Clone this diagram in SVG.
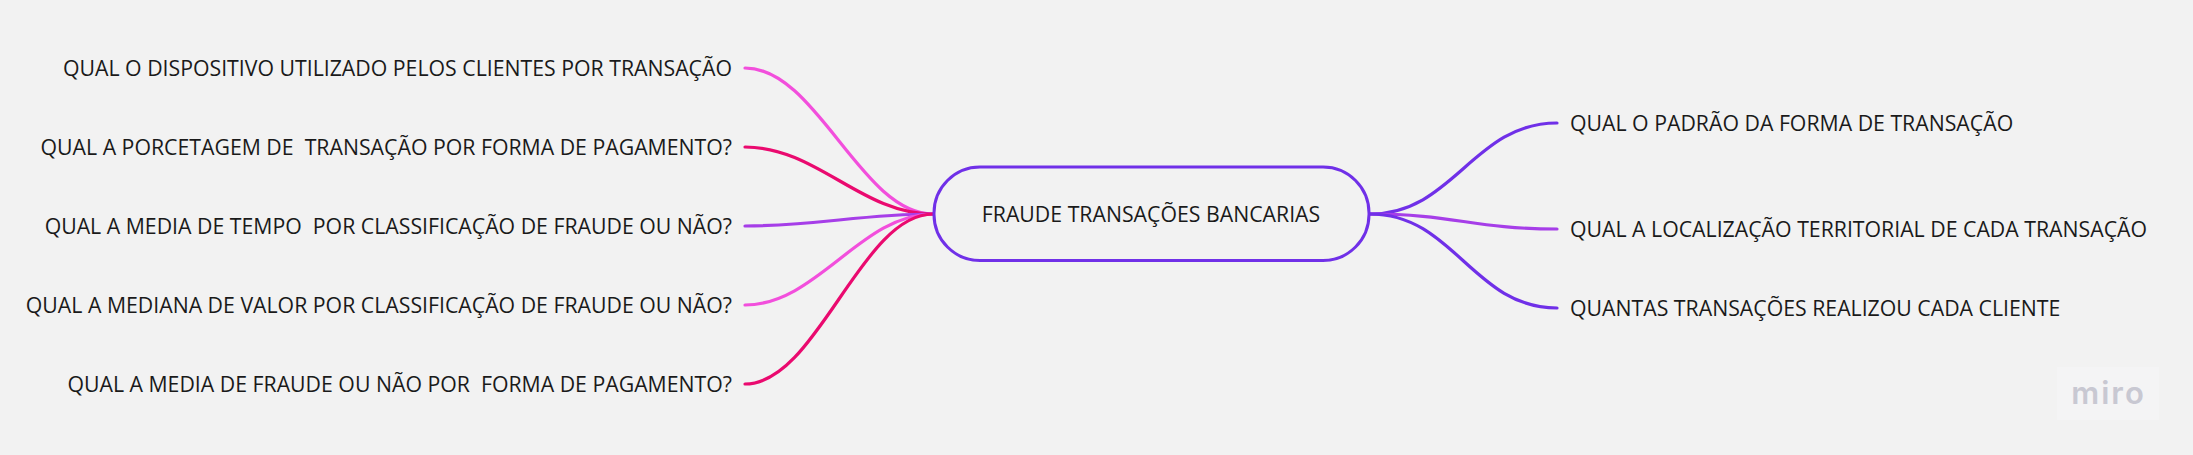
<svg xmlns="http://www.w3.org/2000/svg" width="2193" height="455" viewBox="0 0 2193 455">
<style>
text{font-family:"Open Sans","Noto Sans",sans-serif;font-size:21.27px;fill:#1a1a1a;white-space:pre;dominant-baseline:central}
.l{text-anchor:end}
.c{fill:none;stroke-width:3.2;stroke-linecap:round}
.v{stroke:#7030e8}.p{stroke:#f24fdc}.r{stroke:#ea0a6f}.m{stroke:#a63ee8}
</style>
<rect width="2193" height="455" fill="#f2f2f2"/>
<g id="connectors">
<path class="c p" d="M745 68C817 68 861 214 933 214"/>
<path class="c r" d="M745 147C817 147 861 214 933 214"/>
<path class="c m" d="M745 226C817 226 861 214 933 214"/>
<path class="c p" d="M745 305C817 305 861 214 933 214"/>
<path class="c r" d="M745 384C817 384 861 214 933 214"/>
<path class="c v" d="M1370 214C1454 214 1473 123 1557 123"/>
<path class="c m" d="M1370 214C1454 214 1473 229 1557 229"/>
<path class="c v" d="M1370 214C1454 214 1473 308 1557 308"/>
</g>
<g id="center"><rect x="934" y="167" width="435" height="93.500" rx="46" fill="#f2f2f2" stroke="#7030e8" stroke-width="3"/><text x="1151" y="213.500" text-anchor="middle">FRAUDE TRANSAÇÕES BANCARIAS</text></g>
<g id="l1"><text class="l" x="732" y="67.500">QUAL O DISPOSITIVO UTILIZADO PELOS CLIENTES POR TRANSAÇÃO</text></g>
<g id="l2"><text class="l" x="732" y="146.500">QUAL A PORCETAGEM DE  TRANSAÇÃO POR FORMA DE PAGAMENTO?</text></g>
<g id="l3"><text class="l" x="732" y="225.500">QUAL A MEDIA DE TEMPO  POR CLASSIFICAÇÃO DE FRAUDE OU NÃO?</text></g>
<g id="l4"><text class="l" x="732" y="304.500">QUAL A MEDIANA DE VALOR POR CLASSIFICAÇÃO DE FRAUDE OU NÃO?</text></g>
<g id="l5"><text class="l" x="732" y="383.500">QUAL A MEDIA DE FRAUDE OU NÃO POR  FORMA DE PAGAMENTO?</text></g>
<g id="r1"><text x="1570" y="122.500">QUAL O PADRÃO DA FORMA DE TRANSAÇÃO</text></g>
<g id="r2"><text x="1570" y="228.500">QUAL A LOCALIZAÇÃO TERRITORIAL DE CADA TRANSAÇÃO</text></g>
<g id="r3"><text x="1570" y="307.500">QUANTAS TRANSAÇÕES REALIZOU CADA CLIENTE</text></g>
<g id="miro"><rect x="2057" y="367" width="102" height="53" fill="#f4f4f5"/><text x="2108.500" y="404" text-anchor="middle" style="font-family:Inter,'Open Sans',sans-serif;font-size:31px;font-weight:600;fill:#c8c8d2;letter-spacing:2px;dominant-baseline:alphabetic">miro</text></g>
</svg>
